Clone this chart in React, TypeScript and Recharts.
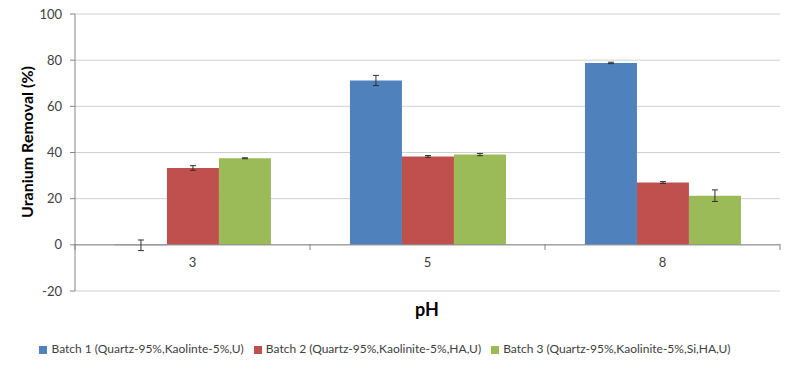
import { BarChart, Bar, XAxis, YAxis, CartesianGrid, Legend, ErrorBar, ReferenceLine } from 'recharts';

const PH_LEVELS = ['3', '5', '8'];
const BATCH1 = [-0.2, 71.2, 78.8];
const BATCH1_ERR = [2.3, 2.2, 0.3];
const BATCH2 = [33.3, 38.3, 27.0];
const BATCH2_ERR = [1.0, 0.4, 0.4];
const BATCH3 = [37.5, 39.1, 21.3];
const BATCH3_ERR = [0.2, 0.5, 2.5];
const Y_TICKS = [-20, 0, 20, 40, 60, 80, 100];

const SERIES = [
  { key: 'b1', name: 'Batch 1 (Quartz-95%,Kaolinte-5%,U)', color: '#4F81BD' },
  { key: 'b2', name: 'Batch 2 (Quartz-95%,Kaolinite-5%,HA,U)', color: '#C0504D' },
  { key: 'b3', name: 'Batch 3 (Quartz-95%,Kaolinite-5%,Si,HA,U)', color: '#9BBB59' },
];

const data = PH_LEVELS.map((ph, i) => ({
  ph,
  b1: BATCH1[i],
  b1Err: BATCH1_ERR[i],
  b2: BATCH2[i],
  b2Err: BATCH2_ERR[i],
  b3: BATCH3[i],
  b3Err: BATCH3_ERR[i],
}));

const FONT = 'Lato, "Open Sans", sans-serif';
const AXIS = '#868686';
const TEXT = '#404040';
const PLOT_LEFT = 75;
const PLOT_RIGHT = 780;
const BAND = (PLOT_RIGHT - PLOT_LEFT) / PH_LEVELS.length;
const ZERO_Y = 244;

function PhTick(props: any) {
  const { x, payload, index } = props;
  const last = index === PH_LEVELS.length - 1;
  return (
    <g>
      <text x={x} y={ZERO_Y + 23} textAnchor="middle" fontSize={13} fill={TEXT} fontFamily={FONT}>
        {payload.value}
      </text>
      <line x1={x - BAND / 2} x2={x - BAND / 2} y1={ZERO_Y} y2={ZERO_Y + 6} stroke={AXIS} />
      {last && <line x1={x + BAND / 2} x2={x + BAND / 2} y1={ZERO_Y} y2={ZERO_Y + 6} stroke={AXIS} />}
    </g>
  );
}

export default function App() {
  return (
    <div style={{ position: 'absolute', left: 0, top: 0, background: '#fff' }}>
      <BarChart
        width={786}
        height={368}
        data={data}
        margin={{ top: 14, right: 6, left: 0, bottom: 12 }}
        barCategoryGap="17%"
        barGap={0}
      >
        <CartesianGrid vertical={false} stroke="#d0d0d0" />
        <XAxis
          dataKey="ph"
          height={50}
          axisLine={false}
          tickLine={false}
          tick={<PhTick />}
          interval={0}
          label={{
            content: () => (
              <text x={427} y={316} textAnchor="middle" fontSize={18} fontWeight="bold" fill="#000" fontFamily={FONT}>
                pH
              </text>
            ),
          }}
        />
        <YAxis
          width={75}
          domain={[-20, 100]}
          ticks={Y_TICKS}
          interval={0}
          stroke={AXIS}
          tickSize={5}
          tickMargin={8}
          tick={{ fontSize: 13, fill: TEXT, fontFamily: FONT }}
          label={{
            content: () => (
              <text
                x={33}
                y={142}
                transform="rotate(-90 33 142)"
                textAnchor="middle"
                fontSize={16}
                fontWeight="bold"
                fill="#000"
                fontFamily={FONT}
              >
                Uranium Removal (%)
              </text>
            ),
          }}
        />
        <ReferenceLine y={0} stroke={AXIS} />
        {SERIES.map((s) => (
          <Bar key={s.key} dataKey={s.key} name={s.name} fill={s.color} isAnimationActive={false}>
            <ErrorBar dataKey={`${s.key}Err`} width={3} stroke="#303030" strokeWidth={1} direction="y" />
          </Bar>
        ))}
        <Legend
          verticalAlign="bottom"
          iconType="square"
          iconSize={8}
          wrapperStyle={{ fontFamily: FONT, fontSize: 12 }}
          formatter={(value: string) => <span style={{ color: TEXT }}>{value}</span>}
        />
      </BarChart>
    </div>
  );
}
